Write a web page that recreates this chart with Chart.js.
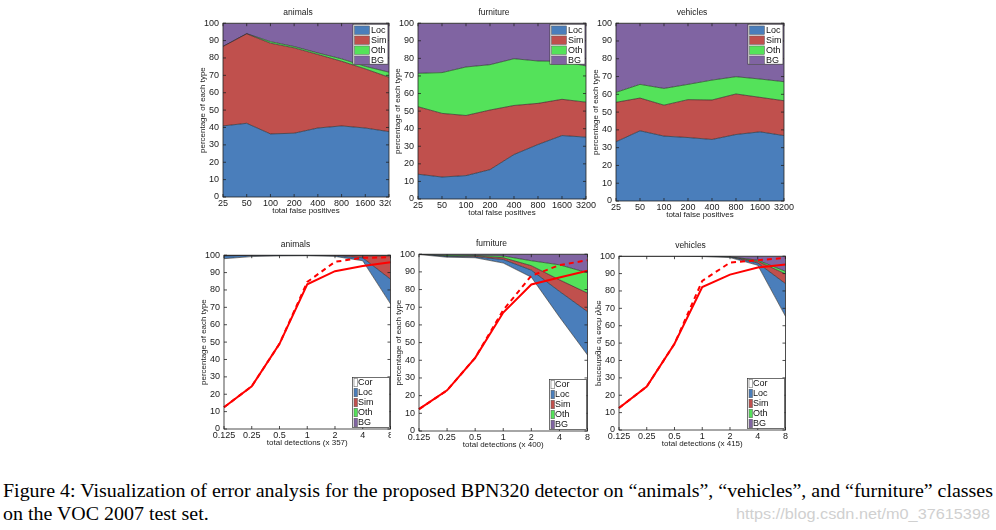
<!DOCTYPE html>
<html>
<head>
<meta charset="utf-8">
<script src="https://cdn.jsdelivr.net/npm/chart.js@4.4.1/dist/chart.umd.min.js"></script>
<style>
  body { margin:0; background:#fff; width:996px; height:530px; overflow:hidden; position:relative; }
  canvas { position:absolute; }
  #clip { position:absolute; left:0; top:0; width:391px; height:462px; overflow:hidden; }
  .cap { position:absolute; left:3px; font-family:"Liberation Serif","Times New Roman",serif; font-size:19px; line-height:19px; color:#000; white-space:nowrap; transform-origin:0 0; }
  #wm { position:absolute; top:507px; left:736px; font-family:"Liberation Sans",Arial,sans-serif; font-size:14px; line-height:14px; color:#d0d0d0; white-space:nowrap; transform-origin:0 0; }
</style>
</head>
<body>
<div id="clip"><canvas id="c1"></canvas><canvas id="c4"></canvas></div>
<canvas id="c2"></canvas><canvas id="c3"></canvas>
<canvas id="c5"></canvas><canvas id="c6"></canvas>
<div class="cap" id="cap1" style="top:481px">Figure 4: Visualization of error analysis for the proposed BPN320 detector on “animals”, “vehicles”, and “furniture” classes</div>
<div class="cap" id="cap2" style="top:504px">on the VOC 2007 test set.</div>
<div id="wm">https://blog.csdn.net/m0_37615398</div>
<script>
Chart.defaults.font.family = '"Liberation Sans", Arial, sans-serif';
Chart.defaults.color = '#1a1a1a';

// x categories
var fpLabels = ['25', '50', '100', '200', '400', '800', '1600', '3200'];
var detLabels = ['0.125', '0.25', '0.5', '1', '2', '4', '8'];

//Top row: share of each false positive type (%)
var animalsLoc = [40.9, 42.4, 36.3, 36.7, 39.7, 40.9, 39.7, 37.6];
var animalsSim = [45.7, 51.5, 52.2, 49.1, 42.3, 37.2, 34.0, 31.3];
var animalsOth = [0.0, 0.1, 0.9, 0.8, 0.9, 1.4, 1.5, 2.9];
var animalsBG  = [13.4, 6.0, 10.6, 13.4, 17.1, 20.5, 24.8, 28.2];

var furnitureLoc = [14.1, 12.5, 13.3, 16.7, 25.3, 31.0, 36.1, 35.2];
var furnitureSim = [38.4, 36.2, 34.2, 33.9, 27.9, 23.4, 20.6, 19.9];
var furnitureOth = [19.0, 23.2, 27.6, 25.8, 26.6, 24.1, 21.6, 20.6];
var furnitureBG  = [28.5, 28.1, 24.9, 23.6, 20.2, 21.5, 21.7, 24.3];

var vehiclesLoc = [33.3, 39.5, 36.5, 35.7, 34.6, 37.4, 38.9, 36.8];
var vehiclesSim = [22.2, 18.4, 17.4, 21.3, 22.2, 22.8, 19.4, 19.6];
var vehiclesOth = [5.6, 7.7, 9.4, 8.6, 11.2, 9.7, 10.3, 10.7];
var vehiclesBG  = [38.9, 34.4, 36.7, 34.4, 32.0, 30.1, 31.4, 32.9];

//Bottom row: share of detections by type (%)
var animalsDetCor = [98.0, 99.2, 99.6, 99.7, 99.3, 96.8, 72.0];
var animalsDetLoc = [1.6, 0.6, 0.3, 0.2, 0.4, 1.7, 14.2];
var animalsDetSim = [0.2, 0.1, 0.05, 0.05, 0.2, 1.1, 13.4];
var animalsDetOth = [0.0, 0.0, 0.0, 0.0, 0.0, 0.1, 0.2];
var animalsDetBG  = [0.2, 0.1, 0.05, 0.05, 0.1, 0.3, 0.2];
var animalsRecall     = [12.5, 24.6, 49.0, 83.3, 90.8, 93.8, 96.0];
var animalsRecallWeak = [12.5, 24.6, 49.0, 84.6, 96.2, 98.5, 98.8];

var furnitureDetCor = [99.8, 98.3, 98.0, 95.0, 87.0, 64.5, 43.0];
var furnitureDetLoc = [0.1, 0.5, 0.5, 2.0, 4.0, 14.5, 24.5];
var furnitureDetSim = [0.0, 0.2, 0.5, 1.0, 2.5, 6.5, 10.5];
var furnitureDetOth = [0.0, 0.5, 0.3, 1.0, 2.8, 8.5, 11.5];
var furnitureDetBG  = [0.1, 0.5, 0.7, 1.0, 3.7, 6.0, 10.5];
var furnitureRecall     = [12.4, 23.0, 41.4, 67.0, 82.9, 86.8, 90.6];
var furnitureRecallWeak = [12.4, 23.0, 41.4, 68.4, 87.8, 93.8, 96.6];

var vehiclesDetCor = [100, 100, 100, 99.8, 99.2, 94.8, 65.4];
var vehiclesDetLoc = [0.0, 0.0, 0.0, 0.1, 0.3, 1.3, 18.8];
var vehiclesDetSim = [0.0, 0.0, 0.0, 0.0, 0.1, 1.0, 5.6];
var vehiclesDetOth = [0.0, 0.0, 0.0, 0.0, 0.1, 0.6, 1.5];
var vehiclesDetBG  = [0.0, 0.0, 0.0, 0.1, 0.3, 2.3, 8.7];
var vehiclesRecall     = [12.7, 25.0, 49.6, 82.3, 89.4, 93.5, 95.2];
var vehiclesRecallWeak = [12.7, 25.0, 49.6, 85.8, 96.3, 97.7, 99.0];

var colors = {
  Cor: '#ffffff',
  Loc: 'rgb(74,126,187)',
  Sim: 'rgb(192,80,77)',
  Oth: 'rgb(84,226,90)',
  BG: 'rgb(128,100,162)'
};

var yTitle = 'percentage of each type';

//plot boxes measured on the figure (page pixels)
var panels = [
  {id:'c1', title:'animals', xTitle:'total false positives', labels:fpLabels, names:['Loc','Sim','Oth','BG'],
   series:[animalsLoc, animalsSim, animalsOth, animalsBG], left:223, top:23, right:389, bottom:196.5, legend:'top'},
  {id:'c2', title:'furniture', xTitle:'total false positives', labels:fpLabels, names:['Loc','Sim','Oth','BG'],
   series:[furnitureLoc, furnitureSim, furnitureOth, furnitureBG], left:418, top:23.5, right:586, bottom:199, legend:'top'},
  {id:'c3', title:'vehicles', xTitle:'total false positives', labels:fpLabels, names:['Loc','Sim','Oth','BG'],
   series:[vehiclesLoc, vehiclesSim, vehiclesOth, vehiclesBG], left:616, top:23, right:784, bottom:200.5, legend:'top'},
  {id:'c4', title:'animals', xTitle:'total detections (x 357)', labels:detLabels, names:['Cor','Loc','Sim','Oth','BG'],
   series:[animalsDetCor, animalsDetLoc, animalsDetSim, animalsDetOth, animalsDetBG],
   recall:animalsRecall, recallWeak:animalsRecallWeak, left:224, top:255, right:390, bottom:428.5, legend:'bottom'},
  {id:'c5', title:'furniture', xTitle:'total detections (x 400)', labels:detLabels, names:['Cor','Loc','Sim','Oth','BG'],
   series:[furnitureDetCor, furnitureDetLoc, furnitureDetSim, furnitureDetOth, furnitureDetBG],
   recall:furnitureRecall, recallWeak:furnitureRecallWeak, left:419, top:254, right:587, bottom:431, legend:'bottom'},
  {id:'c6', title:'vehicles', xTitle:'total detections (x 415)', labels:detLabels, names:['Cor','Loc','Sim','Oth','BG'],
   series:[vehiclesDetCor, vehiclesDetLoc, vehiclesDetSim, vehiclesDetOth, vehiclesDetBG],
   recall:vehiclesRecall, recallWeak:vehiclesRecallWeak, left:619, top:256, right:785, bottom:429.5, legend:'bottom',
   mirrorY:true}
];

var legendSpecs = {
  top:    {width:35, first:6, row:10, pad:4, swX:1.5, swW:15, swH:8.5, textX:18},
  bottom: {width:37, first:5, row:10, pad:5, swX:1.5, swW:3.5, swH:8.5, textX:5.5}
};

//matlab style box with inward ticks on all sides
var frame = {
  id: 'frame',
  afterDatasetsDraw: function(chart) {
    var a = chart.chartArea, ctx = chart.ctx;
    var x = chart.scales.x, y = chart.scales.y;
    ctx.save();
    ctx.strokeStyle = '#222';
    ctx.lineWidth = 0.8;
    ctx.beginPath();
    for (var i = 0; i < x.ticks.length; i++) {
      var px = x.getPixelForTick(i);
      ctx.moveTo(px, a.bottom); ctx.lineTo(px, a.bottom - 3);
      ctx.moveTo(px, a.top); ctx.lineTo(px, a.top + 3);
    }
    for (var j = 0; j < y.ticks.length; j++) {
      var py = y.getPixelForTick(j);
      ctx.moveTo(a.left, py); ctx.lineTo(a.left + 3, py);
      ctx.moveTo(a.right, py); ctx.lineTo(a.right - 3, py);
    }
    ctx.stroke();
    ctx.strokeRect(a.left, a.top, a.right - a.left, a.bottom - a.top);
    ctx.restore();
  }
};

//the vehicles detection plot has its y label flipped in the figure
var mirrorTitle = {
  id: 'mirrorTitle',
  afterDraw: function(chart) {
    if (!chart.$mirrorY) return;
    var a = chart.chartArea, ctx = chart.ctx, s = chart.scales.y;
    ctx.save();
    ctx.translate(s.left + 4.8, (a.top + a.bottom) / 2);
    ctx.scale(-1, 1);
    ctx.rotate(-Math.PI / 2);
    ctx.font = '8px "Liberation Sans", Arial, sans-serif';
    ctx.fillStyle = '#1a1a1a';
    ctx.textAlign = 'center';
    ctx.textBaseline = 'middle';
    ctx.fillText(yTitle, 0, 0);
    ctx.restore();
  }
};

function boxLegend(where) {
  var spec = legendSpecs[where];
  return {
    id: 'boxLegend',
    afterDraw: function(chart) {
      var a = chart.chartArea, ctx = chart.ctx;
      var items = chart.data.datasets.filter(function(d) { return d.isType; });
      var h = spec.first + (items.length - 1) * spec.row + spec.pad;
      var left = a.right - 1 - spec.width;
      var top = where == 'top' ? a.top + 1 : a.bottom - 1.5 - h;
      ctx.save();
      ctx.fillStyle = '#fff';
      ctx.fillRect(left, top, spec.width, h);
      ctx.strokeStyle = '#333';
      ctx.lineWidth = 0.7;
      ctx.strokeRect(left, top, spec.width, h);
      ctx.font = '9px "Liberation Sans", Arial, sans-serif';
      ctx.textBaseline = 'middle';
      items.forEach(function(d, i) {
        var cy = top + spec.first + i * spec.row;
        ctx.fillStyle = d.backgroundColor;
        ctx.fillRect(left + spec.swX, cy - spec.swH / 2, spec.swW, spec.swH);
        ctx.strokeStyle = '#555';
        ctx.lineWidth = 0.5;
        ctx.strokeRect(left + spec.swX, cy - spec.swH / 2, spec.swW, spec.swH);
        ctx.fillStyle = '#111';
        ctx.fillText(d.label, left + spec.textX, cy + 0.5);
      });
      ctx.restore();
    }
  };
}

function makeConfig(p) {
  var datasets = p.series.map(function(values, i) {
    return {
      label: p.names[i],
      data: values,
      backgroundColor: colors[p.names[i]],
      borderColor: 'rgba(30,30,30,0.85)',
      borderWidth: 0.7,
      fill: i == 0 ? 'origin' : '-1',
      pointRadius: 0,
      tension: 0,
      order: 1,
      isType: true
    };
  });
  var scales = {
    x: {
      grid: {display: false, drawTicks: false},
      border: {display: false},
      ticks: {font: {size: 9}, maxRotation: 0, autoSkip: false, padding: 1},
      title: {display: true, text: p.xTitle, font: {size: 8}, padding: 0},
      afterFit: function(s) { s.height = 19; }
    },
    y: {
      stacked: true, min: 0, max: 100,
      grid: {display: false, drawTicks: false},
      border: {display: false},
      ticks: {stepSize: 10, font: {size: 9}, padding: 4},
      title: {display: !p.mirrorY, text: yTitle, font: {size: 8}, padding: 0},
      afterFit: function(s) { s.width = 25; }
    }
  };
  if (p.recall) {
    datasets.push({label: 'recall', data: p.recall, yAxisID: 'yr', borderColor: '#ff0000', borderWidth: 2,
                   pointRadius: 0, fill: false, order: 0});
    datasets.push({label: 'recall (weak)', data: p.recallWeak, yAxisID: 'yr', borderColor: '#ff0000', borderWidth: 2,
                   borderDash: [5, 4], pointRadius: 0, fill: false, order: 0});
    scales.yr = {display: false, stacked: false, min: 0, max: 100};
  }
  return {
    type: 'line',
    data: {labels: p.labels, datasets: datasets},
    options: {
      responsive: false,
      maintainAspectRatio: false,
      animation: false,
      layout: {padding: {left: 4, right: 2, top: 0, bottom: 0}},
      plugins: {
        legend: {display: false},
        tooltip: {enabled: false},
        title: {display: true, text: p.title, font: {size: 8.5, weight: 'normal'}, color: '#1a1a1a',
                padding: {top: 0, bottom: 5}}
      },
      scales: scales
    },
    plugins: [frame, boxLegend(p.legend), mirrorTitle]
  };
}

//draw once to measure margins round the plot, then redraw so the plot box lands where it should
function build(p) {
  var cv = document.getElementById(p.id);
  cv.width = 300; cv.height = 260;
  var chart = new Chart(cv, makeConfig(p));
  var a = chart.chartArea;
  var ml = a.left, mt = a.top, mr = chart.width - a.right, mb = chart.height - a.bottom;
  chart.destroy();
  var w = Math.round(p.right - p.left + ml + mr);
  var h = Math.round(p.bottom - p.top + mt + mb);
  cv.width = w; cv.height = h;
  cv.style.width = w + 'px'; cv.style.height = h + 'px';
  cv.style.left = Math.round(p.left - ml) + 'px';
  cv.style.top = Math.round(p.top - mt) + 'px';
  var c = new Chart(cv, makeConfig(p));
  if (p.mirrorY) { c.$mirrorY = true; c.draw(); }
  return c;
}

panels.forEach(build);

//caption is squeezed horizontally in the figure
var cap1 = document.getElementById('cap1'), cap2 = document.getElementById('cap2');
var sx = 990 / cap1.getBoundingClientRect().width;
cap1.style.transform = 'scaleX(' + sx + ')';
cap2.style.transform = 'scaleX(' + sx + ')';
var wm = document.getElementById('wm');
wm.style.transform = 'scaleX(' + (254 / wm.getBoundingClientRect().width) + ')';
</script>
</body>
</html>
